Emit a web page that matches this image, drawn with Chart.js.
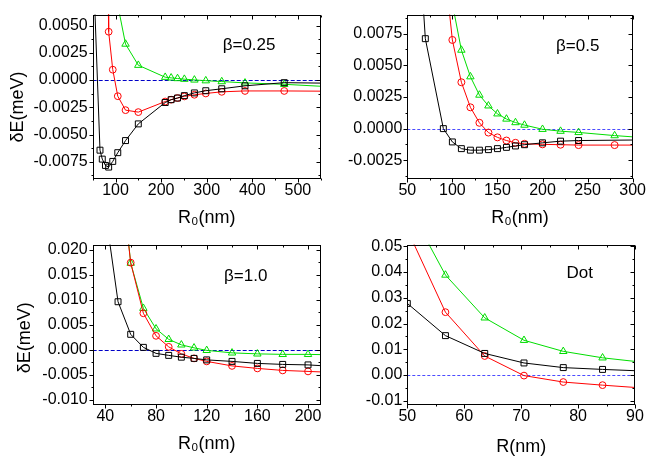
<!DOCTYPE html>
<html>
<head>
<meta charset="utf-8">
<script src="https://cdn.jsdelivr.net/npm/chart.js@4"></script>
<style>
  html, body { margin: 0; padding: 0; background: #fff; }
  #wrap { position: relative; width: 648px; height: 459px; overflow: hidden; }
  canvas { position: absolute; }
</style>
</head>
<body>
<div id="wrap">
  <canvas id="c1" width="324" height="230" style="left:0;top:0;width:324px;height:230px"></canvas>
  <canvas id="c2" width="324" height="230" style="left:324px;top:0;width:324px;height:230px"></canvas>
  <canvas id="c3" width="324" height="229" style="left:0;top:230px;width:324px;height:229px"></canvas>
  <canvas id="c4" width="324" height="229" style="left:324px;top:230px;width:324px;height:229px"></canvas>
</div>
<script>
// ---------- β = 0.25 ----------
const b025X       = [85, 94, 105, 122, 150, 209, 222, 236, 251, 273, 298, 333, 384, 470];
const b025BlackX  = [66, 71, 78, 85, 94, 105, 122, 150, 209, 222, 236, 251, 273, 298, 333, 384, 470];
const b025Black   = [-0.00643, -0.00725, -0.00783, -0.00798, -0.00746, -0.00666, -0.00555, -0.00402, -0.00206, -0.00180, -0.00165, -0.00143, -0.00118, -0.00098, -0.00080, -0.00053, -0.00024];
const b025Red     = [0.00443, 0.00095, -0.00148, -0.00276, -0.00294, -0.00197, -0.00180, -0.00165, -0.00150, -0.00135, -0.00123, -0.00108, -0.00100, -0.00100];
const b025GreenX  = [122, 150, 209, 222, 236, 251, 273, 298, 333, 384, 470];
const b025Green   = [0.00330, 0.00136, 0.00026, 0.00020, 0.00014, 0.00008, 0.00001, -0.00006, -0.00014, -0.00026, -0.00039];
// where the curves leave the frame [x, y]
const b025BlackEnds = [[54, 0.0073], [550, -0.00028]];
const b025RedEnds   = [[84, 0.0075], [550, -0.00102]];
const b025GreenEnds = [[103, 0.0073], [550, -0.00057]];
const b025XTicks = [100, 200, 300, 400, 500];
const b025YTicks = [-0.0075, -0.005, -0.0025, 0, 0.0025, 0.005];

// ---------- β = 0.5 ----------
const b05BlackX = [70, 90, 100, 110, 120, 130, 140, 150, 160, 170, 180, 200, 220, 240];
const b05Black  = [0.0071, 0.0000, -0.00105, -0.00158, -0.00170, -0.00170, -0.00166, -0.00158, -0.00148, -0.00137, -0.00127, -0.00112, -0.00099, -0.00094];
const b05RedX   = [100, 110, 120, 130, 140, 150, 160, 170, 180, 200, 220, 240, 280];
const b05Red    = [0.0070, 0.00366, 0.00168, 0.00046, -0.00031, -0.00069, -0.00094, -0.00112, -0.00120, -0.00124, -0.00127, -0.00130, -0.00130];
const b05GreenX = [110, 120, 130, 140, 150, 160, 170, 180, 200, 220, 240, 280];
const b05Green  = [0.0062, 0.0041, 0.00265, 0.0018, 0.00117, 0.00076, 0.00048, 0.00028, -0.00005, -0.00020, -0.00030, -0.00055];
const b05BlackEnds = [[67.5, 0.0099], [300, -0.00090]];
const b05RedEnds   = [[96, 0.0097], [300, -0.00130]];
const b05GreenEnds = [[101, 0.0095], [300, -0.00065]];
const b05XTicks = [50, 100, 150, 200, 250, 300];
const b05YTicks = [-0.0025, 0, 0.0025, 0.005, 0.0075];

// ---------- β = 1.0 ----------
const b10BlackX = [50, 60, 70, 80, 90, 100, 110, 120, 140, 160, 180, 200];
const b10Black  = [0.0096, 0.0031, 0.0005, -0.0007, -0.0011, -0.00146, -0.0017, -0.0020, -0.0023, -0.0027, -0.0029, -0.0030];
const b10X      = [60, 70, 80, 90, 100, 110, 120, 140, 160, 180, 200];
const b10Red    = [0.0174, 0.0073, 0.0028, 0.0006, -0.0008, -0.0017, -0.0023, -0.0032, -0.0037, -0.0041, -0.0043];
const b10Green  = [0.0173, 0.0083, 0.0042, 0.0021, 0.0010, 0.0004, -0.0001, -0.0006, -0.0008, -0.0009, -0.0009];
const b10BlackEnds = [[42, 0.024], [210, -0.00315]];
const b10RedEnds   = [[57, 0.024], [210, -0.0044]];
const b10GreenEnds = [[57.3, 0.024], [210, -0.00095]];
const b10XTicks = [40, 80, 120, 160, 200];
const b10YTicks = [-0.010, -0.005, 0, 0.005, 0.010, 0.015, 0.020];

// ---------- Dot ----------
const dotBlackX = [50, 56.7, 63.6, 70.5, 77.4, 84.3];
const dotBlack  = [0.0278, 0.0153, 0.0084, 0.0047, 0.0029, 0.0022];
const dotX      = [56.7, 63.6, 70.5, 77.4, 84.3];
const dotRed    = [0.0244, 0.0074, -0.0002, -0.0027, -0.0039];
const dotGreen  = [0.0388, 0.0222, 0.0135, 0.0092, 0.0067];
const dotBlackEnds = [null, [90, 0.0017]];
const dotRedEnds   = [[50.5, 0.054], [90, -0.0048]];
const dotGreenEnds = [[53, 0.054], [90, 0.0053]];
const dotXTicks = [50, 60, 70, 80, 90];
const dotYTicks = [-0.01, 0, 0.01, 0.02, 0.03, 0.04, 0.05];

const FONT = "'Liberation Sans', Arial, Helvetica, sans-serif";
Chart.defaults.font.family = FONT;
Chart.defaults.color = '#000';

// Builds one curve: markers at the measured points, plain line out to the frame edges.
function curve(xs, ys, ends, color, style, radius) {
  const data = [];
  const radii = [];
  if (ends[0]) { data.push({ x: ends[0][0], y: ends[0][1] }); radii.push(0); }
  xs.forEach((x, i) => { data.push({ x: x, y: ys[i] }); radii.push(radius); });
  if (ends[1]) { data.push({ x: ends[1][0], y: ends[1][1] }); radii.push(0); }
  return {
    data: data,
    borderColor: color,
    borderWidth: 1,
    tension: 0,
    pointStyle: style,
    pointRadius: radii,
    pointBorderColor: color,
    pointBackgroundColor: 'rgba(0,0,0,0)',
    pointBorderWidth: 1,
    pointHoverRadius: radii
  };
}

// Closed frame with major/minor ticks (outward on left/bottom, inward on top/right)
function marks(scale, majors) {
  const step = majors[1] - majors[0];
  const lo = Math.min(scale.min, scale.max), hi = Math.max(scale.min, scale.max);
  const out = [];
  for (let k = -60; k <= 60; k++) {
    const v = majors[0] + k * step / 2;
    if (v < lo - 1e-9 || v > hi + 1e-9) continue;
    out.push({ v: v, major: k % 2 === 0 });
  }
  return out;
}

const frameTicks = {
  id: 'frameTicks',
  beforeDatasetsDraw(chart, args, o) {
    const { ctx, chartArea: a, scales: { y } } = chart;
    const y0 = Math.round(y.getPixelForValue(0)) + 0.5;
    ctx.save();
    ctx.strokeStyle = o.zeroColor;
    ctx.lineWidth = 1;
    ctx.setLineDash(o.zeroDash);
    ctx.beginPath();
    ctx.moveTo(a.left, y0);
    ctx.lineTo(a.right, y0);
    ctx.stroke();
    ctx.restore();
  },
  afterDraw(chart, args, o) {
    const { ctx, chartArea: a, scales: { x, y } } = chart;
    ctx.save();
    ctx.strokeStyle = '#000';
    ctx.lineWidth = 1;
    const L = Math.round(a.left) + 0.5, R = Math.round(a.right) - 0.5;
    const T = Math.round(a.top) + 0.5, B = Math.round(a.bottom) - 0.5;
    ctx.strokeRect(L, T, R - L, B - T);
    ctx.beginPath();
    marks(x, o.xMajors).forEach(m => {
      const p = Math.round(x.getPixelForValue(m.v)) + 0.5;
      const len = m.major ? 4 : 2;
      ctx.moveTo(p, B); ctx.lineTo(p, B + len);
      ctx.moveTo(p, T); ctx.lineTo(p, T + len);
    });
    marks(y, o.yMajors).forEach(m => {
      const p = Math.round(y.getPixelForValue(m.v)) + 0.5;
      const len = m.major ? 4 : 2;
      ctx.moveTo(L - len, p); ctx.lineTo(L, p);
      ctx.moveTo(R - len, p); ctx.lineTo(R, p);
    });
    ctx.stroke();

    // panel tag
    ctx.fillStyle = '#000';
    ctx.font = '17px ' + FONT;
    ctx.textAlign = 'center';
    ctx.textBaseline = 'middle';
    ctx.fillText(o.tag, x.getPixelForValue(o.tagAt[0]), y.getPixelForValue(o.tagAt[1]));

    // vertical axis title
    if (o.yTitle) {
      ctx.font = '18px ' + FONT;
      ctx.translate(a.left - o.yTitleDx, (a.top + a.bottom) / 2 + o.yTitleDy);
      ctx.rotate(-Math.PI / 2);
      ctx.fillText(o.yTitle, 0, 0);
    }
    ctx.restore();
  }
};

function panel(id, cfg) {
  const cv = document.getElementById(id);
  new Chart(cv, {
    type: 'line',
    data: { datasets: cfg.datasets },
    plugins: [frameTicks],
    options: {
      responsive: false,
      animation: false,
      devicePixelRatio: 1,
      events: [],
      layout: { padding: { left: 0, top: cfg.area[1], right: cv.width - cfg.area[2], bottom: 0 } },
      plugins: {
        legend: { display: false },
        tooltip: { enabled: false },
        frameTicks: {
          xMajors: cfg.xTicks, yMajors: cfg.yTicks,
          zeroColor: cfg.zeroColor, zeroDash: cfg.zeroDash,
          tag: cfg.tag, tagAt: cfg.tagAt,
          yTitle: cfg.yTitle, yTitleDx: cfg.yTitleDx, yTitleDy: cfg.yTitleDy
        }
      },
      scales: {
        x: {
          type: 'linear',
          min: cfg.xRange[0], max: cfg.xRange[1],
          grid: { display: false, drawTicks: false },
          border: { display: false },
          afterBuildTicks: s => { s.ticks = cfg.xTicks.map(v => ({ value: v })); },
          afterFit: s => { s.height = cv.height - cfg.area[3]; },
          ticks: { padding: 2, autoSkip: false, maxRotation: 0, font: { size: 16 }, color: '#000',
                   callback: v => String(v) },
          title: { display: true, text: cfg.xTitle, font: { size: 18 }, color: '#000',
                   padding: { top: 0, bottom: cfg.xTitlePad } }
        },
        y: {
          type: 'linear',
          min: cfg.yRange[0], max: cfg.yRange[1],
          grid: { display: false, drawTicks: false },
          border: { display: false },
          afterBuildTicks: s => { s.ticks = cfg.yTicks.map(v => ({ value: v })); },
          afterFit: s => { s.width = cfg.area[0]; },
          ticks: { padding: 5, autoSkip: false, font: { size: 16 }, color: '#000',
                   callback: v => Number(v).toFixed(cfg.decimals) }
        }
      }
    }
  });
}

const BLACK = '#000000', RED = '#ff0000', GREEN = '#00dd00';

panel('c1', {
  area: [92.7, 6.7, 320.7, 179.3],
  xRange: [50, 550], yRange: [-0.0091, 0.006],
  xTicks: b025XTicks, yTicks: b025YTicks, decimals: 4,
  xTitle: 'R\u2080(nm)', xTitlePad: 1,
  yTitle: '\u03b4E(meV)', yTitleDx: 74.7, yTitleDy: 10,
  tag: '\u03b2=0.25', tagAt: [393, 0.00317],
  zeroColor: '#0000c8', zeroDash: [4, 2],
  datasets: [
    curve(b025BlackX, b025Black, b025BlackEnds, BLACK, 'rect', 4.2),
    curve(b025X, b025Red, b025RedEnds, RED, 'circle', 3.4),
    curve(b025GreenX, b025Green, b025GreenEnds, GREEN, 'triangle', 4.3)
  ]
});

panel('c2', {
  area: [83.3, 9.1, 311, 179.3],
  xRange: [50, 300], yRange: [-0.004, 0.009],
  xTicks: b05XTicks, yTicks: b05YTicks, decimals: 4,
  xTitle: 'R\u2080(nm)', xTitlePad: 1,
  yTitle: null,
  tag: '\u03b2=0.5', tagAt: [239, 0.0065],
  zeroColor: '#4b4bff', zeroDash: [3, 2],
  datasets: [
    curve(b05BlackX, b05Black, b05BlackEnds, BLACK, 'rect', 4.2),
    curve(b05RedX, b05Red, b05RedEnds, RED, 'circle', 3.5),
    curve(b05GreenX, b05Green, b05GreenEnds, GREEN, 'triangle', 4.3)
  ]
});

panel('c3', {
  area: [92.7, 5, 320.7, 175],
  xRange: [30, 210], yRange: [-0.011, 0.021],
  xTicks: b10XTicks, yTicks: b10YTicks, decimals: 3,
  xTitle: 'R\u2080(nm)', xTitlePad: 4,
  yTitle: '\u03b4E(meV)', yTitleDx: 67.7, yTitleDy: 13,
  tag: '\u03b2=1.0', tagAt: [150.8, 0.0147],
  zeroColor: '#0000c8', zeroDash: [4, 2],
  datasets: [
    curve(b10BlackX, b10Black, b10BlackEnds, BLACK, 'rect', 4.2),
    curve(b10X, b10Red, b10RedEnds, RED, 'circle', 3.4),
    curve(b10X, b10Green, b10GreenEnds, GREEN, 'triangle', 4.3)
  ]
});

panel('c4', {
  area: [83.3, 6.7, 311, 175],
  xRange: [50, 90], yRange: [-0.0116, 0.0506],
  xTicks: dotXTicks, yTicks: dotYTicks, decimals: 2,
  xTitle: 'R(nm)', xTitlePad: 1.5,
  yTitle: null,
  tag: 'Dot', tagAt: [80.3, 0.0395],
  zeroColor: '#4b4bff', zeroDash: [3, 2],
  datasets: [
    curve(dotBlackX, dotBlack, dotBlackEnds, BLACK, 'rect', 4.2),
    curve(dotX, dotRed, dotRedEnds, RED, 'circle', 3.4),
    curve(dotX, dotGreen, dotGreenEnds, GREEN, 'triangle', 4.3)
  ]
});
</script>
</body>
</html>
